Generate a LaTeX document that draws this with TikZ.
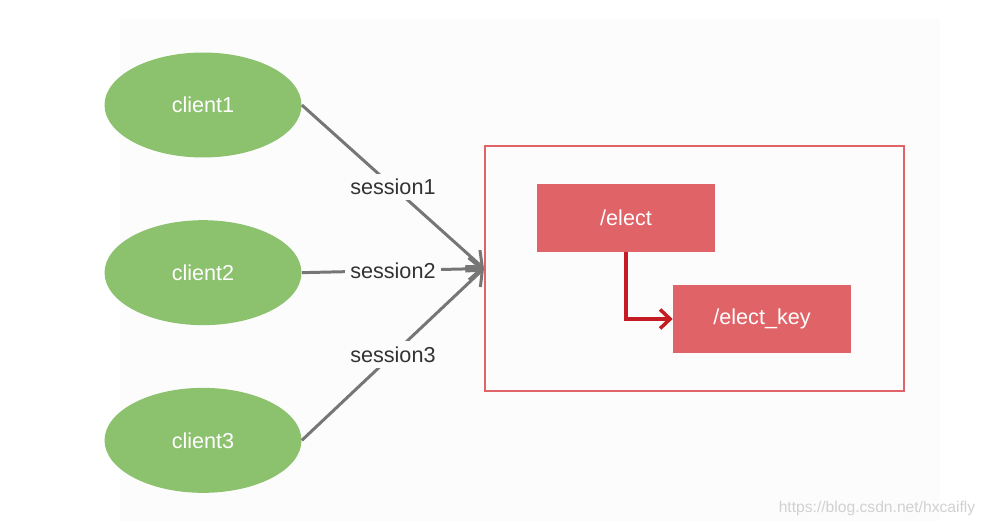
\documentclass[tikz,border=0pt]{standalone}
\usepackage{fontspec}
\setmainfont{Liberation Sans}
\usetikzlibrary{positioning}
\usetikzlibrary{arrows.meta}
\usetikzlibrary{shapes.geometric}

\definecolor{clientgreen}{RGB}{140,193,110}
\definecolor{znodered}{RGB}{224,99,104}
\definecolor{linkred}{RGB}{196,28,34}
\definecolor{sessiongray}{RGB}{118,118,118}
\definecolor{panel}{RGB}{252,252,252}

\begin{document}
\begin{tikzpicture}[
    x=0.02cm, y=-0.02cm,
    node distance=1.24cm,
    client/.style={
        ellipse,
        fill=clientgreen,
        text=white,
        minimum width=3.94cm,
        minimum height=2.1cm,
        font=\fontsize{12.3}{14}\selectfont
    },
    znode/.style={
        fill=znodered,
        text=white,
        minimum width=3.56cm,
        minimum height=1.36cm,
        font=\fontsize{12.3}{14}\selectfont
    },
    server/.style={
        draw=znodered,
        line width=1.2pt,
        minimum width=8.38cm,
        minimum height=4.9cm
    },
    session/.style={draw=sessiongray, line width=1.7pt, -{Straight Barb[length=2.6mm,width=4.4mm]}},
    label/.style={fill=panel, inner sep=3pt, text=black!80, font=\fontsize{12.3}{14}\selectfont},
    link/.style={draw=linkred, line width=2pt, -{Straight Barb[length=2mm,width=3.8mm]}}
]

\useasboundingbox[fill=white] (0,0) rectangle (986,527);
\fill[panel] (120,18) rectangle (940,521);

% clients
\node[client] (c1) at (203,105) {client1};
\node[client, below=of c1] (c2) {client2};
\node[client, below=of c2] (c3) {client3};

% zookeeper side
\node[server] (zk) at (694.5,268.5) {};
\node[znode] (el) at (626,218) {/elect};
\node[znode] (ek) at (762,319) {/elect\_key};

\draw[session] (c1.east) -- node[label] {session1} (zk.west);
\draw[session] (c2.east) -- node[label] {session2} (zk.west);
\draw[session] (c3.east) -- node[label] {session3} (zk.west);

\draw[link] (el.south) |- (ek.west);

\node[text=black!18, font=\fontsize{8.9}{10}\selectfont] (wm) at (877,508) {https://blog.csdn.net/hxcaifly};

\end{tikzpicture}
\end{document}
